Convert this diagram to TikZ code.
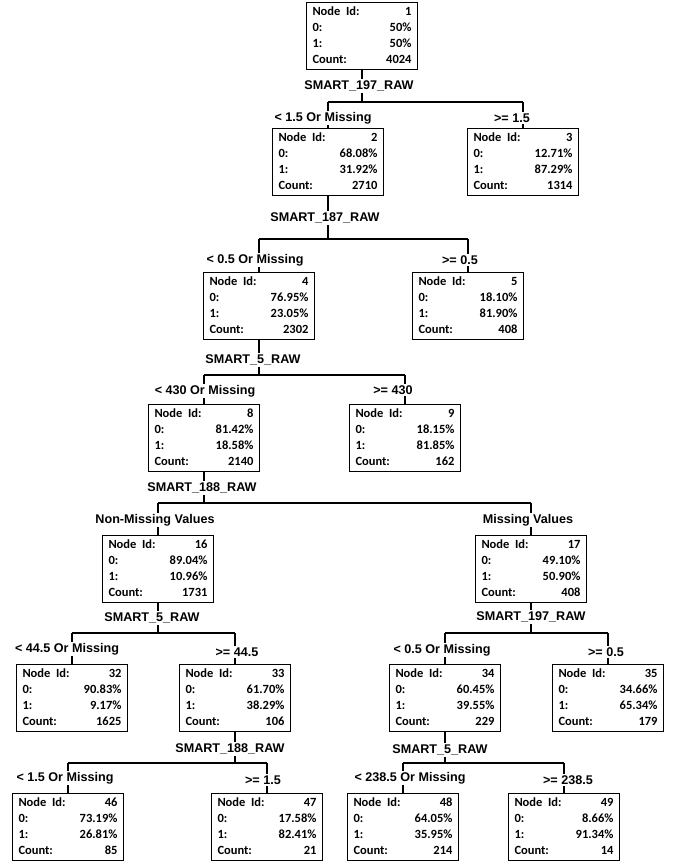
\documentclass[tikz,border=0pt]{standalone}
\usepackage{fontspec}
\setmainfont{Liberation Sans}
\newfontfamily\boxfont{Carlito}
\newcommand{\nodestats}[4]{%
  \begin{tabular*}{99pt}{@{}l@{\extracolsep{\fill}}r@{}}
    Node~ Id: & #1\\
    0: & #2\%\\
    1: & #3\%\\
    Count: & #4
  \end{tabular*}}

\begin{document}
\begin{tikzpicture}[x=1pt,y=-1pt]
  \tikzstyle{leaf}=[draw,line width=1.3pt,rectangle,anchor=north,minimum width=111pt,minimum height=67pt,inner sep=1.5pt,font=\boxfont\bfseries\fontsize{12.5}{16}\selectfont]
  \tikzstyle{branch}=[draw,line width=1.6pt]
  \tikzstyle{cut}=[fill=white,inner sep=1.5pt,font=\bfseries\fontsize{12.6}{14}\selectfont]
  \useasboundingbox (0,0) rectangle (676,862);
  \foreach \n/\x/\y/\i/\a/\b/\c in {
      n1/362/2/1/50/50/4024,
      n2/328/128/2/68.08/31.92/2710, n3/523/128/3/12.71/87.29/1314,
      n4/259/272/4/76.95/23.05/2302, n5/468/272/5/18.10/81.90/408,
      n8/204/404/8/81.42/18.58/2140, n9/405/404/9/18.15/81.85/162,
      n16/158/535/16/89.04/10.96/1731, n17/531/535/17/49.10/50.90/408,
      n32/72/664/32/90.83/9.17/1625, n33/235/664/33/61.70/38.29/106,
      n34/445/664/34/60.45/39.55/229, n35/608/664/35/34.66/65.34/179,
      n46/68/793/46/73.19/26.81/85, n47/267/793/47/17.58/82.41/21,
      n48/403/793/48/64.05/35.95/214, n49/564/793/49/8.66/91.34/14}
    \node[leaf] (\n) at (\x,\y) {\nodestats{\i}{\a}{\b}{\c}};
  \foreach \pp/\lc/\rc/\vn/\vx/\vy/\by/\lt/\lx/\ly/\rt/\rx/\ry in {
      n1/n2/n3/SMART\_197\_RAW/359/86/102/< 1.5 Or Missing/323/118/>= 1.5/512/118,
      n2/n4/n5/SMART\_187\_RAW/325/218/239/< 0.5 Or Missing/255/260/>= 0.5/460/260,
      n4/n8/n9/SMART\_5\_RAW/253/360/375/< 430 Or Missing/205/391/>= 430/393/390,
      n8/n16/n17/SMART\_188\_RAW/202/488/503/Non-Missing Values/155/520/Missing Values/528/520,
      n16/n32/n33/SMART\_5\_RAW/152/618/633/< 44.5 Or Missing/67/649/>= 44.5/237/652,
      n17/n34/n35/SMART\_197\_RAW/531/617/633/< 0.5 Or Missing/442/650/>= 0.5/606/652,
      n33/n46/n47/SMART\_188\_RAW/230/749/763/< 1.5 Or Missing/65/778/>= 1.5/263/780,
      n34/n48/n49/SMART\_5\_RAW/440/750/763/< 238.5 Or Missing/410/778/>= 238.5/568/780}
  {
    \coordinate (bar) at (0,\by);
    \draw[branch] (\pp.south) -- (\pp.south |- bar)
      (\lc.north |- bar) -- (\rc.north |- bar)
      (\lc.north |- bar) -- (\lc.north)
      (\rc.north |- bar) -- (\rc.north);
    \node[cut] (s\pp) at (\vx,\vy) {\vn};
    \node[cut] (l\pp) at (\lx,\ly) {\lt};
    \node[cut] (r\pp) at (\rx,\ry) {\rt};
  }
\end{tikzpicture}
\end{document}
